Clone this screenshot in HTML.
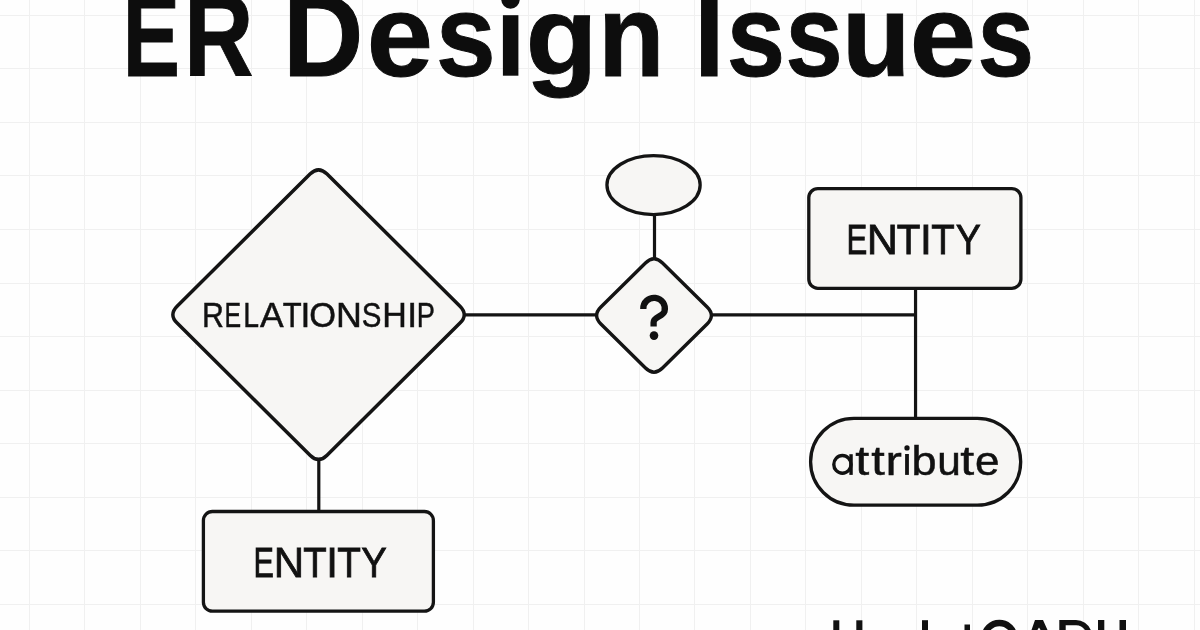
<!DOCTYPE html>
<html><head><meta charset="utf-8"><style>
html,body{margin:0;padding:0;background:#fefefe;}
svg{display:block;}
</style></head><body>
<svg width="1200" height="630" viewBox="0 0 1200 630">
<rect width="1200" height="630" fill="#fefefe"/>
<g stroke="#f0f0f0" stroke-width="1">
<line x1="29.5" y1="0" x2="29.5" y2="630"/>
<line x1="84.5" y1="0" x2="84.5" y2="630"/>
<line x1="140.5" y1="0" x2="140.5" y2="630"/>
<line x1="195.5" y1="0" x2="195.5" y2="630"/>
<line x1="251.5" y1="0" x2="251.5" y2="630"/>
<line x1="306.5" y1="0" x2="306.5" y2="630"/>
<line x1="362.5" y1="0" x2="362.5" y2="630"/>
<line x1="417.5" y1="0" x2="417.5" y2="630"/>
<line x1="473.5" y1="0" x2="473.5" y2="630"/>
<line x1="528.5" y1="0" x2="528.5" y2="630"/>
<line x1="584.5" y1="0" x2="584.5" y2="630"/>
<line x1="639.5" y1="0" x2="639.5" y2="630"/>
<line x1="694.5" y1="0" x2="694.5" y2="630"/>
<line x1="750.5" y1="0" x2="750.5" y2="630"/>
<line x1="805.5" y1="0" x2="805.5" y2="630"/>
<line x1="861.5" y1="0" x2="861.5" y2="630"/>
<line x1="916.5" y1="0" x2="916.5" y2="630"/>
<line x1="972.5" y1="0" x2="972.5" y2="630"/>
<line x1="1027.5" y1="0" x2="1027.5" y2="630"/>
<line x1="1083.5" y1="0" x2="1083.5" y2="630"/>
<line x1="1138.5" y1="0" x2="1138.5" y2="630"/>
<line x1="1194.5" y1="0" x2="1194.5" y2="630"/>
<line x1="0" y1="15.5" x2="1200" y2="15.5"/>
<line x1="0" y1="68.5" x2="1200" y2="68.5"/>
<line x1="0" y1="122.5" x2="1200" y2="122.5"/>
<line x1="0" y1="175.5" x2="1200" y2="175.5"/>
<line x1="0" y1="229.5" x2="1200" y2="229.5"/>
<line x1="0" y1="283.5" x2="1200" y2="283.5"/>
<line x1="0" y1="336.5" x2="1200" y2="336.5"/>
<line x1="0" y1="390.5" x2="1200" y2="390.5"/>
<line x1="0" y1="443.5" x2="1200" y2="443.5"/>
<line x1="0" y1="497.5" x2="1200" y2="497.5"/>
<line x1="0" y1="550.5" x2="1200" y2="550.5"/>
<line x1="0" y1="604.5" x2="1200" y2="604.5"/>
</g>
<g font-family="Liberation Sans, sans-serif" fill="#0d0d0d" stroke="#0d0d0d" stroke-width="1" stroke-linejoin="miter">
<text transform="translate(122.66,75.50) scale(0.739,1.000)" font-size="116" font-weight="bold">E</text>
<text transform="translate(184.07,75.50) scale(0.828,1.000)" font-size="116" font-weight="bold">R</text>
<text transform="translate(283.06,75.50) scale(0.959,1.000)" font-size="116" font-weight="bold">D</text>
<text transform="translate(366.66,75.50) scale(1.025,1.000)" font-size="116" font-weight="bold">e</text>
<text transform="translate(435.93,75.50) scale(0.925,1.000)" font-size="116" font-weight="bold">s</text>
<text transform="translate(525.69,75.14) scale(1.011,0.963)" font-size="116" font-weight="bold">g</text>
<text transform="translate(598.36,75.50) scale(0.934,1.000)" font-size="116" font-weight="bold">n</text>
<text transform="translate(694.26,75.50) scale(0.934,1.000)" font-size="116" font-weight="bold">I</text>
<text transform="translate(726.81,75.50) scale(0.905,1.000)" font-size="116" font-weight="bold">s</text>
<text transform="translate(785.48,75.50) scale(0.887,1.000)" font-size="116" font-weight="bold">s</text>
<text transform="translate(841.95,75.50) scale(0.966,1.000)" font-size="116" font-weight="bold">u</text>
<text transform="translate(909.84,75.50) scale(1.028,1.000)" font-size="116" font-weight="bold">e</text>
<text transform="translate(977.42,75.50) scale(0.878,1.000)" font-size="116" font-weight="bold">s</text>
</g>
<g stroke="#141414" stroke-width="3.2" fill="none" stroke-linecap="butt">
<line x1="464" y1="314.8" x2="597" y2="314.8"/>
<line x1="711" y1="314.8" x2="915.5" y2="314.8"/>
<line x1="915.55" y1="287" x2="915.55" y2="419"/>
<line x1="654.5" y1="214" x2="654.5" y2="259"/>
<line x1="318.8" y1="459" x2="318.8" y2="512"/>
</g>
<g stroke="#141414" stroke-width="3.3" fill="#f7f6f4" stroke-linejoin="round">
<path d="M327.06,174.06 L459.99,306.19 Q468.50,314.65 459.99,323.11 L327.06,455.24 Q318.55,463.70 310.04,455.24 L177.11,323.11 Q168.60,314.65 177.11,306.19 L310.04,174.06 Q318.55,165.60 327.06,174.06 Z" stroke-width="3.5"/>
<path d="M662.53,262.99 L707.11,307.06 Q715.65,315.50 707.11,323.94 L662.53,368.01 Q654.00,376.45 645.47,368.01 L600.89,323.94 Q592.35,315.50 600.89,307.06 L645.47,262.99 Q654.00,254.55 662.53,262.99 Z" stroke-width="3.4"/>
<ellipse cx="653.55" cy="185.1" rx="46.6" ry="29.5"/>
<rect x="808.8" y="188.6" width="212.1" height="99.7" rx="9"/>
<rect x="203.4" y="511.5" width="230" height="99.7" rx="9"/>
<rect x="810.6" y="418.3" width="210.1" height="86.9" rx="43.4"/>
</g>
<path d="M643.3,309 A10.8,10.8 0 1 1 664.5,311.5 C662.5,317 653.6,316.5 653.6,322.5 L653.6,326.4" stroke="#111111" stroke-width="6.3" fill="none"/>
<circle cx="654" cy="335.6" r="4.3" fill="#111111"/>
<g font-family="Liberation Sans, sans-serif" fill="#111111" stroke="#111111" stroke-width="0.5" style="will-change:transform">
<text transform="translate(202.01,327.00) scale(0.852,1.000)" font-size="35.6">R</text>
<text transform="translate(224.46,327.00) scale(0.700,1.000)" font-size="35.6">E</text>
<text transform="translate(243.17,327.00) scale(0.796,1.000)" font-size="35.6">L</text>
<text transform="translate(259.93,327.00) scale(0.996,1.000)" font-size="35.6">A</text>
<text transform="translate(282.80,327.00) scale(0.869,1.000)" font-size="35.6">T</text>
<text transform="translate(300.55,327.00) scale(1.000,1.000)" font-size="35.6">I</text>
<text transform="translate(309.37,327.00) scale(0.967,1.000)" font-size="35.6">O</text>
<text transform="translate(336.06,327.00) scale(1.006,1.000)" font-size="35.6">N</text>
<text transform="translate(361.66,327.00) scale(0.829,1.000)" font-size="35.6">S</text>
<text transform="translate(382.21,327.00) scale(0.955,1.000)" font-size="35.6">H</text>
<text transform="translate(407.30,327.00) scale(1.000,1.000)" font-size="35.6">I</text>
<text transform="translate(416.77,327.00) scale(0.765,1.000)" font-size="35.6">P</text>
<g stroke-width="0.8">
<text transform="translate(846.54,253.70) scale(0.734,1.000)" font-size="42.5">E</text>
<text transform="translate(866.86,253.70) scale(1.015,1.000)" font-size="42.5">N</text>
<text transform="translate(896.63,253.70) scale(0.911,1.000)" font-size="42.5">T</text>
<text transform="translate(920.10,253.70) scale(1.000,1.000)" font-size="42.5">I</text>
<text transform="translate(931.34,253.70) scale(0.903,1.000)" font-size="42.5">T</text>
<text transform="translate(955.77,253.70) scale(0.887,1.000)" font-size="42.5">Y</text>
<text transform="translate(253.49,576.90) scale(0.729,1.000)" font-size="42">E</text>
<text transform="translate(273.85,576.90) scale(1.002,1.000)" font-size="42">N</text>
<text transform="translate(303.14,576.90) scale(0.914,1.000)" font-size="42">T</text>
<text transform="translate(326.22,576.90) scale(1.000,1.000)" font-size="42">I</text>
<text transform="translate(337.23,576.90) scale(0.922,1.000)" font-size="42">T</text>
<text transform="translate(361.36,576.90) scale(0.913,1.000)" font-size="42">Y</text>
</g>
<text transform="translate(855.34,474.90) scale(1.238,1.000)" font-size="40.5">t</text>
<text transform="translate(871.17,474.90) scale(1.199,1.000)" font-size="40.5">t</text>
<text transform="translate(885.53,474.90) scale(1.215,1.000)" font-size="40.5">r</text>
<text transform="translate(911.60,474.90) scale(1.112,1.000)" font-size="40.5">b</text>
<text transform="translate(937.25,474.90) scale(1.046,1.000)" font-size="40.5">u</text>
<text transform="translate(960.24,474.90) scale(1.233,1.000)" font-size="40.5">t</text>
<text transform="translate(974.88,474.90) scale(1.087,1.000)" font-size="40.5">e</text>
</g>
<g fill="none" stroke="#111111" stroke-width="3.4">
<ellipse cx="842.4" cy="464.4" rx="8.6" ry="8.9"/>
<line x1="851.05" y1="454.2" x2="851.05" y2="474.9"/>
</g>
<g fill="#0d0d0d">
<rect x="502.9" y="15.2" width="15.5" height="60.5"/>
<circle cx="510.5" cy="-0.5" r="9.25"/>
</g>
<g fill="#111111">
<rect x="905.1" y="454" width="3.8" height="20.9"/>
<circle cx="907" cy="447.9" r="2.65"/>
</g>
<g fill="#111111">
<rect x="833.3" y="620.3" width="6" height="10"/>
<rect x="856.3" y="620.3" width="6.1" height="10"/>
<rect x="922" y="620.2" width="6" height="10"/>
<rect x="964.5" y="624.5" width="5.5" height="6"/>
<circle cx="999.4" cy="637.8" r="14.85" fill="none" stroke="#111111" stroke-width="6.5"/>
<path d="M1035,620 L1043,620 L1047.5,630 L1031.5,630 Z M1039,627.5 L1040.6,630 L1037.4,630 Z" fill-rule="evenodd"/>
<path d="M1059.3,630 V620 H1076 A16,16 0 0 1 1090.8,630 Z M1065.7,630 V625.3 H1076 A10.7,10.7 0 0 1 1084.9,630 Z" fill-rule="evenodd"/>
<rect x="1098" y="620" width="6.3" height="10"/>
<rect x="1119.5" y="620" width="6.5" height="10"/>
</g>
</svg>
</body></html>
